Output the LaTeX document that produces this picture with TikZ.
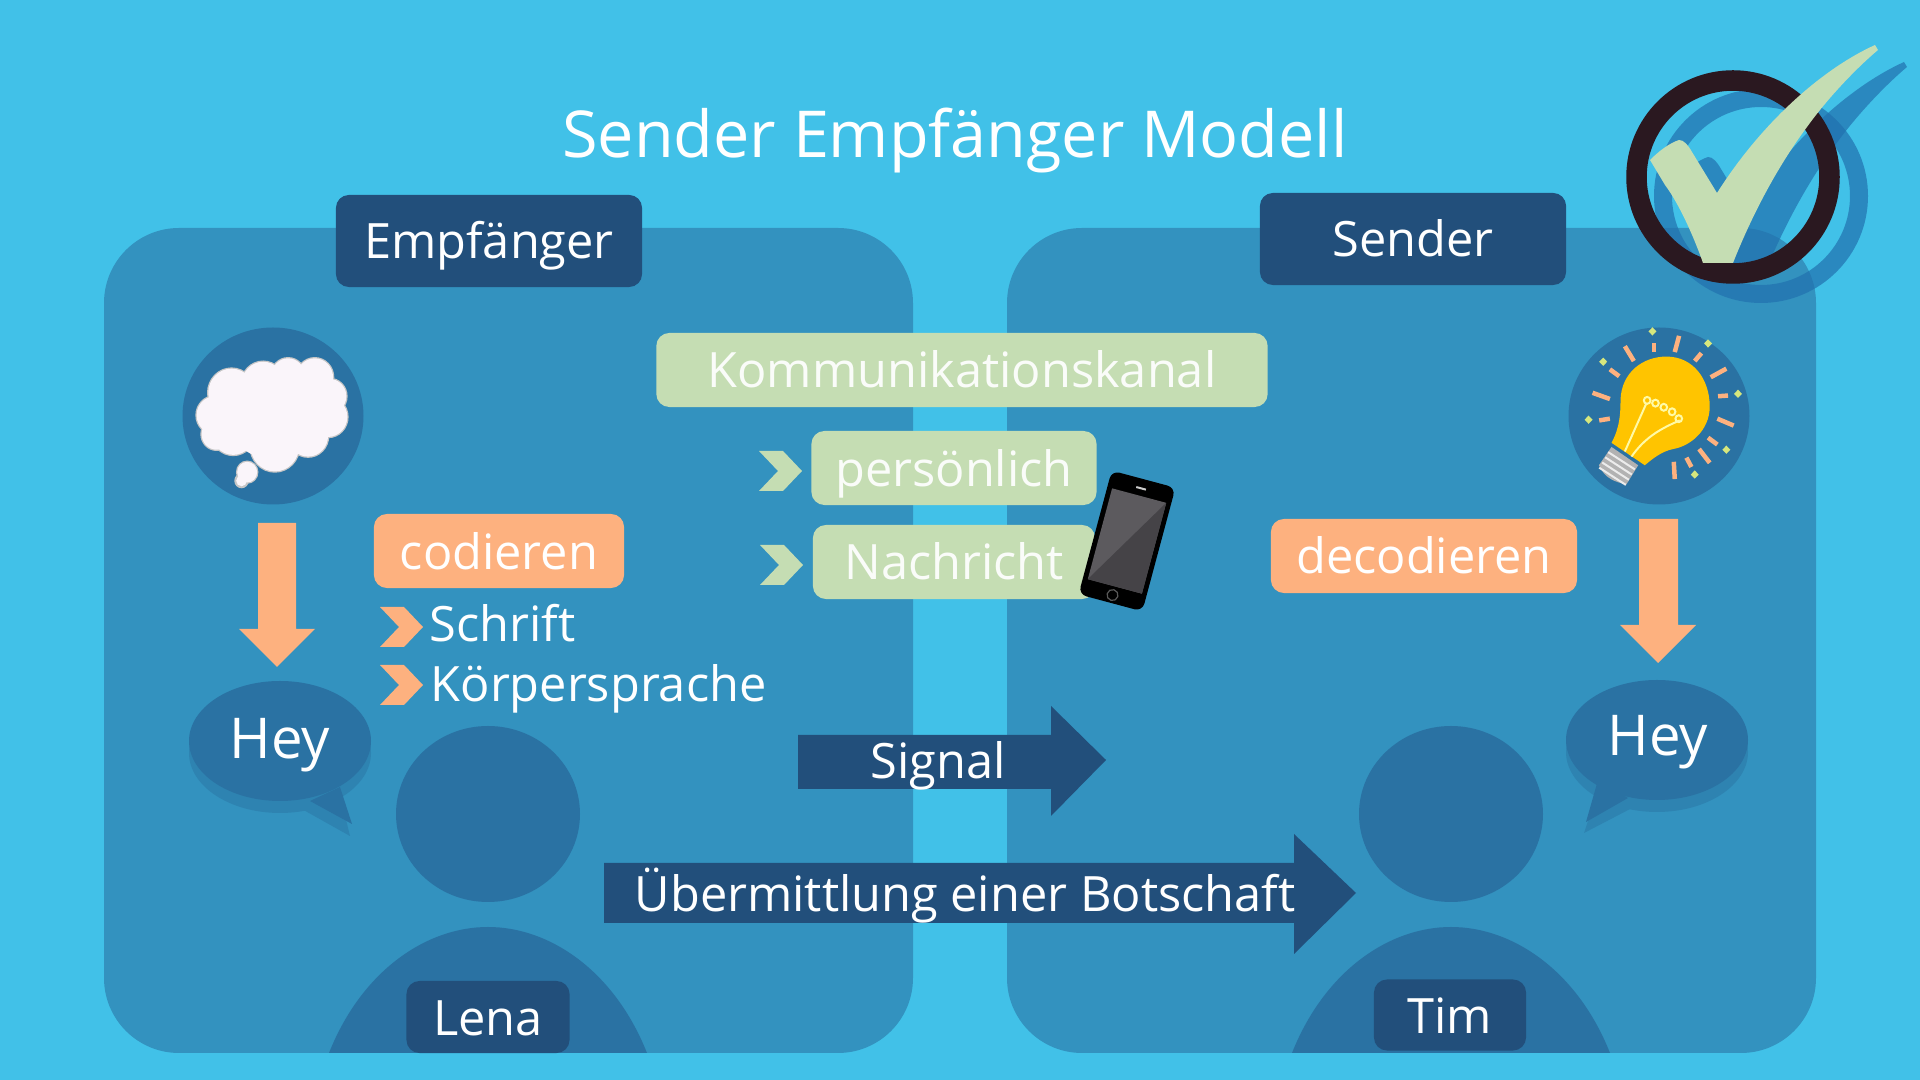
\documentclass[tikz,border=0pt]{standalone}
\usepackage{fontspec}
\setmainfont{Open Sans}
\usepackage{xcolor}
\usepackage{tikz}
\usetikzlibrary{positioning}

\definecolor{skybg}{HTML}{41C1E8}
\definecolor{panelblue}{HTML}{3392BF}
\definecolor{circblue}{HTML}{2A72A3}
\definecolor{shadeblue}{HTML}{2E83B1}
\definecolor{navybox}{HTML}{224F7B}
\definecolor{peach}{HTML}{FDB17F}
\definecolor{sage}{HTML}{C5DDB3}
\definecolor{tickshade}{HTML}{2171AE}
\definecolor{ringdark}{HTML}{2A1820}
\definecolor{bulbyellow}{HTML}{FFC400}
\definecolor{screenlight}{HTML}{5C5A5E}
\definecolor{screendark}{HTML}{454347}

\tikzset{
  txt/.style={text=white, font=\fontsize{13.85}{16}\selectfont, inner sep=0pt, text height=0.40cm, text depth=0.04cm},
  box/.style={txt, rounded corners=0.13cm, align=center},
  navy/.style={box, fill=navybox, minimum width=#1cm, minimum height=0.92cm},
  greenbox/.style={box, fill=sage, text=white!92!sage, minimum width=#1cm, minimum height=0.74cm},
  peachbox/.style={box, fill=peach, minimum width=#1cm, minimum height=0.74cm},
  pics/chev/.style={code={\fill[#1] (0,0) -- (24,0) -- (43,20) -- (24,40) -- (0,40) -- (19,20) -- cycle;}},
}
\newcommand{\tickpath}{(1650,160) .. controls (1660,150) and (1670,143) .. (1679,140)
  .. controls (1684,140) and (1688,145) .. (1692,152) -- (1717,193)
  .. controls (1760,125) and (1820,70) .. (1875,45) -- (1878,50)
  .. controls (1860,65) and (1830,95) .. (1807,127)
  .. controls (1775,170) and (1750,220) .. (1733,263) -- (1703,263)
  .. controls (1695,240) and (1680,205) .. (1665,185) -- cycle}

\begin{document}
\begin{tikzpicture}[x=0.01cm, y=-0.01cm]
  \useasboundingbox (0,0) rectangle (1920,1080);
  \fill[skybg] (0,0) rectangle (1920,1080);

  % panels
  \fill[panelblue, rounded corners=0.75cm] (104,228) rectangle (913,1053);
  \fill[panelblue, rounded corners=0.75cm] (1007,228) rectangle (1816,1053);

  % persons
  \foreach \px in {488,1451} {
    \fill[circblue] (\px,814) ellipse (92 and 88);
    \fill[circblue] (\px-159,1053) .. controls (\px-126,970) and (\px-61,927) .. (\px,927)
      .. controls (\px+61,927) and (\px+126,970) .. (\px+159,1053) -- cycle;
  }

  % tick top right
  \draw[tickshade, opacity=0.7, line width=0.18cm] (1761,196) circle (98);
  \begin{scope}[shift={(29,17)}]
    \fill[tickshade, opacity=0.7] \tickpath;
  \end{scope}
  \draw[ringdark, line width=0.205cm] (1733,177) circle (96.5);
  \fill[sage] \tickpath;

  \node[txt, font=\fontsize{18.4}{22}\selectfont, text height=0.53cm, text depth=0.02cm] (title) at (955,132) {Sender Empfänger Modell};

  \node[navy=3.06] (empf) at (489,241) {Empfänger};
  \node[navy=3.06] (send) at (1413,239) {Sender};
  \node[greenbox=6.11] (kanal) at (962,370) {Kommunikationskanal};
  \node[greenbox=2.85] (pers) at (954,468) {persönlich};
  \node[greenbox=2.82] (nachr) at (954,562) {Nachricht};
  \node[peachbox=2.50] (cod) at (499,551) {codieren};
  \node[peachbox=3.06] (decod) at (1424,556) {decodieren};

  \path (759,451) pic {chev=sage};
  \path (760,545) pic {chev=sage};
  \path (380,607) pic {chev=peach};
  \path (380,665) pic {chev=peach};
  \node[txt, anchor=west] (schrift) at (429,623) {Schrift};
  \node[txt, anchor=west] (koerper) at (430,683) {Körpersprache};

  % phone
  \begin{scope}[shift={(1127,541)}, rotate=-15]
    \fill[black, rounded corners=0.08cm] (-33,-64) rectangle (33,64);
    \fill[screenlight] (-28,-47) rectangle (28,47);
    \fill[screendark] (28,-47) -- (28,47) -- (-28,47) -- cycle;
    \fill[white!80!black] (-5,-55.5) rectangle (5,-53.5);
    \draw[black!65!white, line width=0.012cm] (0,56) circle (5.5);
  \end{scope}

  % thought, left
  \fill[circblue] (273,416) ellipse (90.5 and 88.5);
  \begin{scope}[shift={(160,310)}, x=0.00333cm, y=-0.00345cm]
    \foreach \cx/\cy/\cr in {215/240/70, 310/215/65, 385/190/50, 465/195/55, 510/250/50,
        505/310/58, 445/365/60, 345/395/73, 220/355/65, 165/305/55, 170/360/45,
        262/470/30, 245/495/18} {
      \draw[gray!45, line width=0.025cm] (\cx,\cy) circle (\cr);
    }
    \foreach \cx/\cy/\cr in {215/240/70, 310/215/65, 385/190/50, 465/195/55, 510/250/50,
        505/310/58, 445/365/60, 345/395/73, 220/355/65, 165/305/55, 170/360/45,
        262/470/30, 330/300/130, 410/290/115} {
      \fill[white!96!violet] (\cx,\cy) circle (\cr);
    }
    \fill[white!96!violet] (245,495) circle (16);
  \end{scope}

  % bulb, right
  \fill[circblue] (1659,416) ellipse (90.5 and 88.5);
  \begin{scope}[shift={(1530,310)}, x=0.00333cm, y=-0.00345cm]
    \foreach \ax/\ay/\bx/\by in {285/105/312/148, 448/75/435/122, 590/170/543/195, 612/335/563/315,
        540/443/508/403, 435/490/432/440, 240/258/188/240, 372/122/372/95, 515/125/495/148,
        595/248/565/250, 563/390/535/370, 485/455/470/428, 240/315/208/320, 268/192/240/172} {
      \draw[peach, line width=0.045cm] (\ax,\ay) -- (\bx,\by);
    }
    \foreach \sx/\sy in {368/62, 535/97, 625/243, 590/405, 495/477, 176/318, 220/150} {
      \fill[sage!70!yellow] (\sx-12,\sy) -- (\sx,\sy-12) -- (\sx+12,\sy) -- (\sx,\sy+12) -- cycle;
    }
    \fill[gray!60] (245,397) -- (325,450) -- (290,505) .. controls (260,500) and (225,490) .. (207,450) -- cycle;
    \foreach \ss in {0,1,2,3}
      \draw[white!85!gray, line width=0.02cm] (235+\ss*-9,412+\ss*15) -- (315+\ss*-9,462+\ss*15);
    \fill[bulbyellow] (245,385) .. controls (270,340) and (272,300) .. (272,260)
      .. controls (275,180) and (340,135) .. (410,135)
      .. controls (490,135) and (540,200) .. (540,280)
      .. controls (540,350) and (480,395) .. (430,403)
      .. controls (395,410) and (370,430) .. (345,450) -- cycle;
    \draw[yellow!35, line width=0.02cm] (285,410) -- (350,270);
    \draw[yellow!35, line width=0.02cm] (305,425) .. controls (345,370) and (390,345) .. (450,320);
    \foreach \lx/\ly in {352/262, 377/270, 402/282, 427/295, 447/315}
      \draw[yellow!35, line width=0.02cm] (\lx,\ly) circle (10);
  \end{scope}

  % down arrows
  \fill[peach] (258,523) -- (296,523) -- (296,629) -- (315,629) -- (277,667) -- (239,629) -- (258,629) -- cycle;
  \fill[peach] (1639,519) -- (1678,519) -- (1678,625) -- (1696,625) -- (1658,663) -- (1620,625) -- (1639,625) -- cycle;

  % speech bubbles
  \fill[shadeblue] (280,753) ellipse (91 and 60);
  \fill[shadeblue] (340,795) -- (350,836) -- (300,808) -- cycle;
  \fill[circblue] (280,741) ellipse (91 and 60);
  \fill[circblue] (340,787) -- (352,824) -- (310,801) -- cycle;
  \node[txt, font=\fontsize{16}{19}\selectfont, text height=0.47cm, text depth=0.10cm] (heyl) at (280,740) {Hey};
  \fill[shadeblue] (1657,752) ellipse (91 and 60);
  \fill[shadeblue] (1600,785) -- (1584,833) -- (1632,808) -- cycle;
  \fill[circblue] (1657,740) ellipse (91 and 60);
  \fill[circblue] (1598,780) -- (1586,822) -- (1628,798) -- cycle;
  \node[txt, font=\fontsize{16}{19}\selectfont, text height=0.45cm, text depth=0.10cm] (heyr) at (1658,738) {Hey};

  % signal arrows
  \fill[navybox] (798,735) -- (1051,735) -- (1051,706) -- (1106,760) -- (1051,816) -- (1051,789) -- (798,789) -- cycle;
  \node[txt] (signal) at (938,760) {Signal};
  \fill[navybox] (604,863) -- (1294,863) -- (1294,834) -- (1356,893) -- (1294,954) -- (1294,923) -- (604,923) -- cycle;
  \node[txt] (botschaft) at (965,893) {Übermittlung einer Botschaft};

  \node[navy=1.63, minimum height=0.72cm] (lena) at (488,1017) {Lena};
  \node[navy=1.52, minimum height=0.71cm] (tim) at (1450,1015) {Tim};
\end{tikzpicture}
\end{document}
